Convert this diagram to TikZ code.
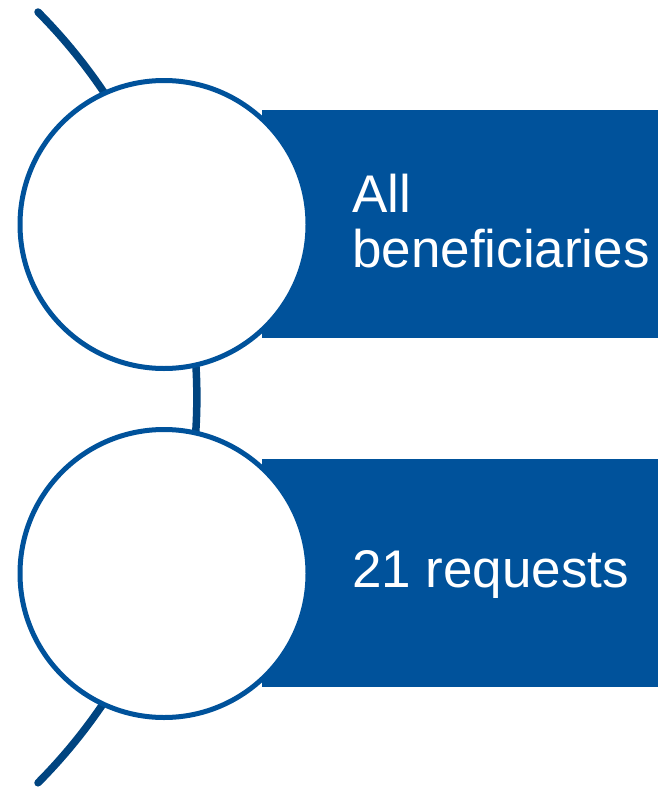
\documentclass[tikz,border=0pt]{standalone}
\usepackage{fontspec}
\setmainfont{Liberation Sans}
\definecolor{boxblue}{RGB}{0,82,155}
\definecolor{arcblue}{RGB}{0,68,128}
\tikzset{
  band/.style={fill=boxblue, draw=none, inner sep=0pt, outer sep=0pt, anchor=north west, minimum width=396pt, minimum height=228pt},
  disc/.style={circle, draw=boxblue, line width=5pt, fill=white, inner sep=0pt, minimum size=288pt},
  label/.style={text=white, font=\fontsize{53}{55}\selectfont, align=left, inner sep=0pt, anchor=base west},
  spine/.style={draw=arcblue, line width=7.5pt, line cap=round}
}
\begin{document}
\begin{tikzpicture}[x=1pt,y=-1pt]
\useasboundingbox (0,0) rectangle (658,787);
\coordinate (top) at (38,12);
\draw[spine] (top) arc[start angle=-44.8, end angle=44.8, radius=547];
\node[band] (r1) at (262,110) {};
\node[band] (r2) at (262,459) {};
\node[disc] (c1) at (164,224.5) {};
\node[disc] (c2) at (164,573.5) {};
\node[label] (t1) at (352,267) {All\\beneficiaries};
\node[label] (t2) at (352,587) {21 requests};
\end{tikzpicture}
\end{document}
